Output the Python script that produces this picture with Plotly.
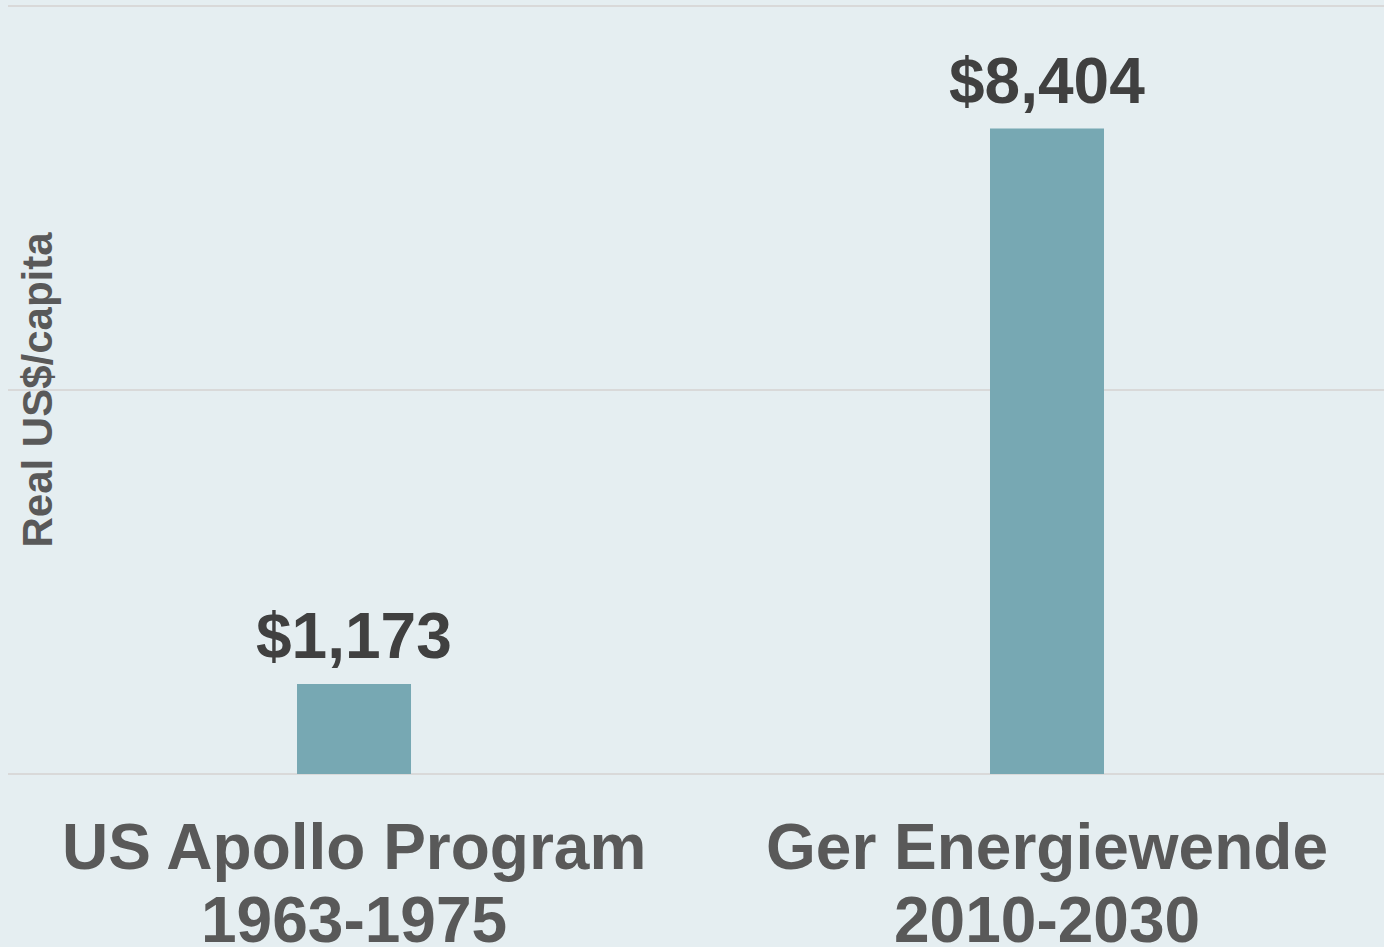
import plotly.graph_objects as go

categories = ["US Apollo Program", "Ger Energiewende"]
periods = ["1963-1975", "2010-2030"]
values = [1173, 8404]
y_title = "Real US$/capita"

BG = "#E5EEF1"
BAR = "#77A8B3"
GRID = "#D9D9D9"
FONT = "Liberation Sans, Arial, sans-serif"

x_idx = list(range(len(categories)))

fig = go.Figure()
fig.add_trace(go.Bar(
    x=x_idx, y=values, width=0.1645,
    marker=dict(color=BAR, line=dict(width=0)),
    hoverinfo="skip",
))

annotations = []
for i, v in zip(x_idx, values):
    annotations.append(dict(
        x=i, y=v, xref="x", yref="y", text=f"<b>${v:,}</b>",
        showarrow=False, yanchor="bottom", yshift=10,
        font=dict(family=FONT, size=64, color="#404040"),
    ))
for i, c, p in zip(x_idx, categories, periods):
    annotations.append(dict(
        x=i, y=-0.0947, xref="x", yref="paper", text=f"<b>{c}</b>",
        showarrow=False, yanchor="middle",
        font=dict(family=FONT, size=64, color="#595959"),
    ))
    annotations.append(dict(
        x=i, y=-0.1892, xref="x", yref="paper", text=f"<b>{p}</b>",
        showarrow=False, yanchor="middle",
        font=dict(family=FONT, size=64, color="#595959"),
    ))
annotations.append(dict(
    x=(37.5 - 8) / 1376, y=0.498, xref="paper", yref="paper",
    text=f"<b>{y_title}</b>", textangle=-90, showarrow=False,
    xanchor="center", yanchor="middle",
    font=dict(family=FONT, size=42, color="#595959"),
))

fig.update_layout(
    width=1384, height=947,
    margin=dict(l=8, r=0, t=3, b=173),
    paper_bgcolor=BG, plot_bgcolor=BG,
    showlegend=False,
    hovermode=False,
    annotations=annotations,
    xaxis=dict(range=[-0.4993, 1.4863], showticklabels=False, showgrid=False,
               zeroline=False, showline=False, ticks=""),
    yaxis=dict(range=[0, 10039], tickvals=[0, 5000, 10000], showticklabels=False,
               showgrid=True, gridcolor=GRID, gridwidth=2,
               zeroline=True, zerolinecolor=GRID, zerolinewidth=2,
               showline=False, ticks=""),
)

fig.write_html(
    "out.html",
    config={"displayModeBar": False},
    post_script="document.body.style.margin='0';document.body.style.background='" + BG + "';",
)
